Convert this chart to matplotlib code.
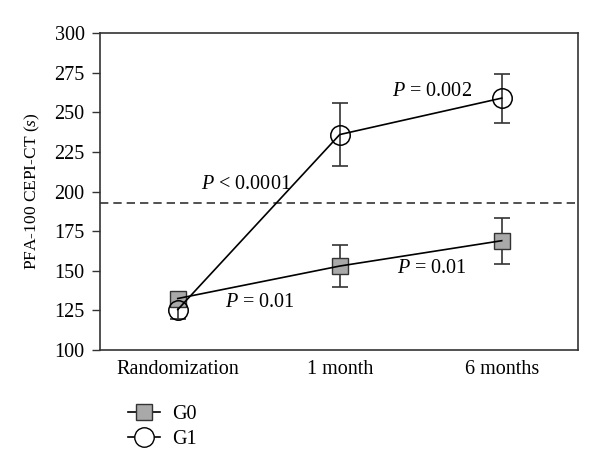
import matplotlib
matplotlib.use('Agg')
import matplotlib.pyplot as plt
import numpy as np

# data
categories = ['Randomization', '1 month', '6 months']
g0_mean = [132.5, 153.0, 169.0]
g0_err = [3.0, 13.5, 14.5]
g1_mean = [125.5, 236.0, 259.0]
g1_err = [6.0, 20.0, 15.5]
cutoff = 192.5

plt.rcParams['font.family'] = ['Liberation Serif', 'DejaVu Serif']
plt.rcParams['mathtext.fontset'] = 'custom'
plt.rcParams['mathtext.it'] = 'Liberation Serif:italic'
plt.rcParams['mathtext.rm'] = 'Liberation Serif'

fig = plt.figure(figsize=(6.0, 4.74), dpi=100)
ax = fig.add_axes([0.1667, 0.2616, 0.7963, 0.6684])

x = np.arange(len(categories))
ecol = '#333333'

ax.errorbar(x, g0_mean, yerr=g0_err, fmt='none', ecolor=ecol, elinewidth=1.2,
            capsize=6, capthick=1.2, zorder=2)
ax.errorbar(x, g1_mean, yerr=g1_err, fmt='none', ecolor=ecol, elinewidth=1.2,
            capsize=6, capthick=1.2, zorder=2)

ax.plot(x, g0_mean, ls='none', marker='s', markersize=11, markerfacecolor='#a9a9a9',
        markeredgecolor='#333333', markeredgewidth=1.0, zorder=3)
ax.plot(x, g0_mean, color='black', lw=1.2, zorder=4)
ax.plot(x, g1_mean, color='black', lw=1.2, zorder=4)
ax.plot(x, g1_mean, ls='none', marker='o', markersize=14, markerfacecolor='none',
        markeredgecolor='black', markeredgewidth=1.1, zorder=5)

ax.axhline(cutoff, color='#333333', lw=1.2, ls=(0, (5, 3)), zorder=1)

ax.set_xlim(-0.48, 2.47)
ax.set_ylim(100, 300)
ax.set_yticks(np.arange(100, 301, 25))
ax.set_xticks(x)
ax.set_xticklabels(categories)
ax.tick_params(axis='x', length=0, pad=7, labelsize=14.5)
ax.tick_params(axis='y', length=6, width=1.0, color='#333333', labelsize=14.5, pad=5)
for s in ax.spines.values():
    s.set_color('#333333')
    s.set_linewidth(1.2)
ax.set_ylabel('PFA-100 CEPI-CT ($\\it{s}$)', fontsize=12.5, labelpad=9)

fs = 14.5
ax.text(1.57, 263, '$P$ = 0.002', fontsize=fs, ha='center', va='center')
ax.text(0.42, 204.5, '$P$ < 0.0001', fontsize=fs, ha='center', va='center')
ax.text(0.51, 130, '$P$ = 0.01', fontsize=fs, ha='center', va='center')
ax.text(1.57, 151.5, '$P$ = 0.01', fontsize=fs, ha='center', va='center')

h0, = ax.plot([], [], color='black', lw=1.2, marker='s', markersize=11,
              markerfacecolor='#a9a9a9', markeredgecolor='#333333')
h1, = ax.plot([], [], color='black', lw=1.2, marker='o', markersize=14,
              markerfacecolor='white', markeredgecolor='black')
fig.legend([h0, h1], ['G0', 'G1'], loc='upper left', bbox_to_anchor=(0.196, 0.166),
           frameon=False, fontsize=14.5, handlelength=1.6, handletextpad=0.6,
           labelspacing=0.25, borderpad=0)

fig.savefig('out.png', dpi=100)
